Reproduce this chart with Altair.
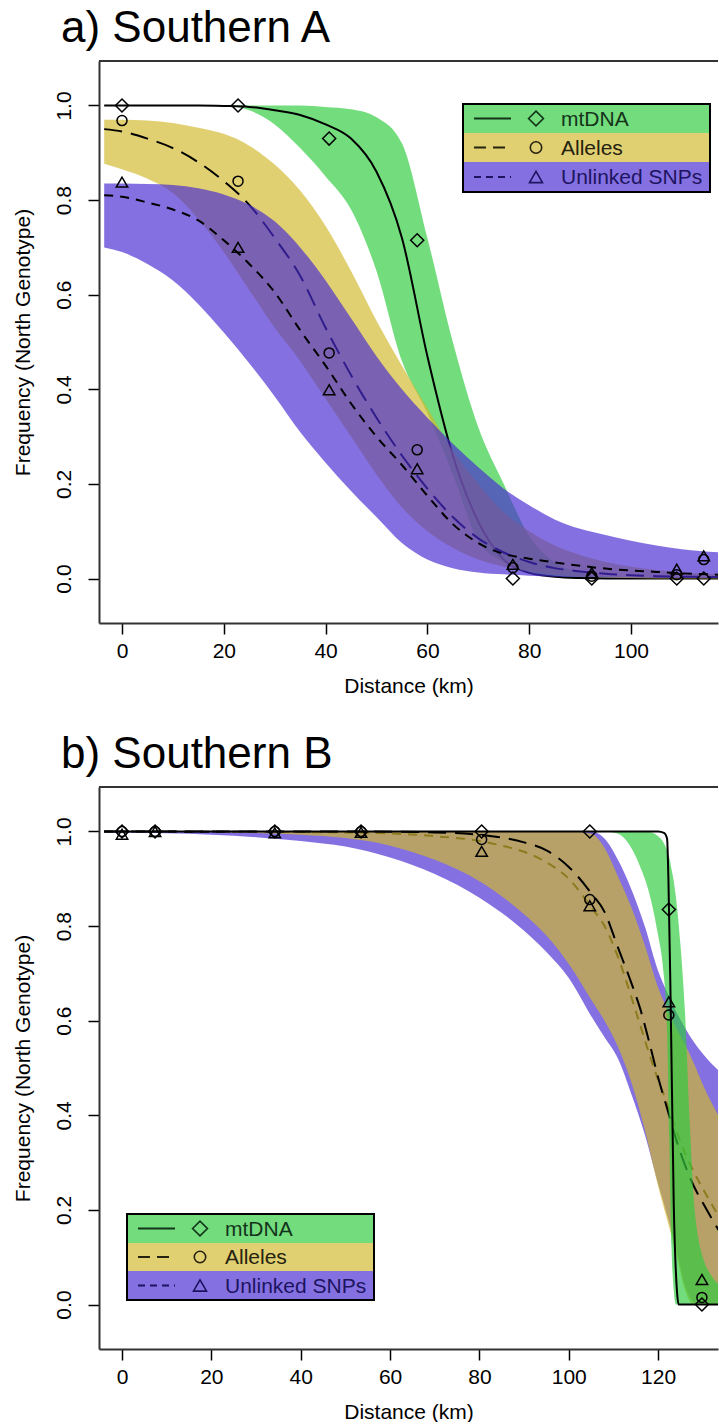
import altair as alt
import pandas as pd

# ---------------- panel a) Southern A ----------------
a_curve_km = [-3.5, 0, 5, 10, 15, 20, 25, 30, 35, 40, 45, 50, 55, 60, 65, 70, 75, 80, 85, 90, 95, 100, 105, 110, 117.5]
a_mt_fit = [1.0, 1.0, 1.0, 1.0, 1.0, 0.999, 0.997, 0.99, 0.98, 0.96, 0.93, 0.86, 0.72, 0.47, 0.26, 0.12, 0.04, 0.012, 0.004, 0.001, 0.0, 0.0, 0.0, 0.0, 0.0]
a_mt_hi = [1.0, 1.0, 1.0, 1.0, 1.0, 1.0, 1.0, 1.0, 1.0, 0.997, 0.992, 0.975, 0.92, 0.72, 0.50, 0.32, 0.20, 0.09, 0.035, 0.012, 0.004, 0.001, 0.0, 0.0, 0.0]
a_mt_lo = [1.0, 1.0, 1.0, 1.0, 1.0, 1.0, 0.99, 0.96, 0.91, 0.85, 0.78, 0.65, 0.46, 0.35, 0.22, 0.08, 0.035, 0.012, 0.004, 0.0, 0.0, 0.0, 0.0, 0.0, 0.0]
a_al_fit = [0.95, 0.945, 0.93, 0.91, 0.88, 0.84, 0.79, 0.72, 0.64, 0.53, 0.43, 0.34, 0.26, 0.19, 0.13, 0.085, 0.055, 0.035, 0.022, 0.015, 0.01, 0.007, 0.005, 0.004, 0.003]
a_al_hi = [0.97, 0.97, 0.968, 0.963, 0.953, 0.94, 0.915, 0.875, 0.82, 0.745, 0.65, 0.545, 0.45, 0.36, 0.27, 0.2, 0.14, 0.1, 0.07, 0.05, 0.035, 0.025, 0.018, 0.013, 0.009]
a_al_lo = [0.877, 0.865, 0.845, 0.815, 0.76, 0.69, 0.61, 0.53, 0.46, 0.38, 0.30, 0.22, 0.15, 0.10, 0.065, 0.04, 0.025, 0.015, 0.008, 0.004, 0.002, 0.001, 0.0, 0.0, 0.0]
a_snp_fit = [0.81, 0.807, 0.795, 0.78, 0.757, 0.715, 0.665, 0.605, 0.525, 0.45, 0.37, 0.30, 0.24, 0.175, 0.115, 0.075, 0.052, 0.042, 0.034, 0.027, 0.021, 0.017, 0.014, 0.011, 0.008]
a_snp_hi = [0.835, 0.835, 0.834, 0.832, 0.825, 0.812, 0.79, 0.755, 0.70, 0.63, 0.55, 0.47, 0.40, 0.34, 0.285, 0.235, 0.19, 0.155, 0.125, 0.105, 0.092, 0.08, 0.07, 0.062, 0.055]
a_snp_lo = [0.70, 0.69, 0.665, 0.63, 0.58, 0.52, 0.455, 0.385, 0.31, 0.245, 0.185, 0.13, 0.075, 0.04, 0.022, 0.013, 0.009, 0.006, 0.004, 0.003, 0.002, 0.002, 0.001, 0.001, 0.001]
a_site_km = [0, 22.8, 40.7, 58, 76.8, 92.3, 109, 114.3]
a_mt_obs = [1.0, 1.0, 0.93, 0.715, 0.0, 0.0, 0.0, 0.0]
a_al_obs = [0.968, 0.84, 0.477, 0.272, 0.023, 0.005, 0.008, 0.04]
a_snp_obs = [0.838, 0.70, 0.399, 0.232, 0.03, 0.012, 0.02, 0.048]

# ---------------- panel b) Southern B ----------------
b_mt_km = [-4, 100, 120, 121.3, 122, 122.3, 122.8, 123.5, 124.2, 124.6, 134]
b_mt_fit = [1.0, 1.0, 1.0, 0.997, 0.985, 0.9, 0.64, 0.21, 0.03, 0.0, 0.0]
b_mtband_km = [-4, 100, 108, 111, 114, 116, 118, 120, 121, 122, 122.5, 123, 123.5, 124, 125, 126, 127, 128, 129, 130, 132, 134]
b_mt_hi = [1.0, 1.0, 1.0, 1.0, 1.0, 1.0, 0.999, 0.99, 0.98, 0.96, 0.945, 0.92, 0.895, 0.86, 0.76, 0.62, 0.40, 0.22, 0.14, 0.10, 0.06, 0.04]
b_mt_lo = [1.0, 1.0, 1.0, 0.995, 0.965, 0.925, 0.87, 0.78, 0.72, 0.58, 0.35, 0.12, 0.03, 0.0, 0.0, 0.0, 0.0, 0.0, 0.0, 0.0, 0.0, 0.0]
b_band_km = [-4, 10, 20, 30, 40, 50, 60, 70, 80, 90, 95, 100, 105, 108, 111, 114, 117, 120, 122, 124, 126, 128, 130, 134]
b_al_hi = [1, 1, 1, 1, 1, 1, 1, 1, 1, 1, 1, 1, 0.995, 0.965, 0.905, 0.84, 0.76, 0.67, 0.625, 0.585, 0.55, 0.51, 0.465, 0.39]
b_al_lo = [1, 1, 0.999, 0.997, 0.993, 0.986, 0.97, 0.94, 0.895, 0.825, 0.78, 0.72, 0.645, 0.60, 0.545, 0.47, 0.37, 0.25, 0.18, 0.11, 0.03, 0.0, 0.0, 0.0]
b_snp_hi = [1, 1, 1, 1, 1, 1, 1, 1, 1, 1, 1, 1, 1.0, 0.985, 0.94, 0.878, 0.80, 0.705, 0.66, 0.62, 0.585, 0.555, 0.53, 0.49]
b_snp_lo = [0.998, 0.996, 0.993, 0.988, 0.98, 0.968, 0.945, 0.91, 0.86, 0.79, 0.745, 0.69, 0.61, 0.565, 0.52, 0.445, 0.36, 0.255, 0.19, 0.12, 0.04, 0.005, 0.0, 0.0]
b_fit_km = [-4, 50, 70, 80, 85, 90, 95, 100, 105, 108, 111, 114, 116, 118, 120, 122, 124, 126, 128, 130, 134]
b_al_fit = [1.0, 1.0, 0.998, 0.993, 0.987, 0.977, 0.96, 0.925, 0.87, 0.83, 0.755, 0.68, 0.625, 0.555, 0.48, 0.415, 0.35, 0.295, 0.25, 0.215, 0.15]
b_snp_fit = [1.0, 0.998, 0.99, 0.98, 0.97, 0.957, 0.935, 0.90, 0.84, 0.80, 0.735, 0.65, 0.59, 0.53, 0.475, 0.425, 0.37, 0.32, 0.28, 0.245, 0.18]
b_site_km = [0, 7.4, 34.2, 53.5, 80.5, 104.7, 122.4, 129.8]
b_mt_obs = [1.0, 1.0, 1.0, 1.0, 1.0, 1.0, 0.835, 0.0]
b_al_obs = [1.0, 1.0, 1.0, 1.0, 0.983, 0.856, 0.612, 0.015]
b_snp_obs = [0.994, 1.0, 0.997, 0.998, 0.958, 0.843, 0.64, 0.053]

series = ["mtDNA", "Alleles", "Unlinked SNPs"]

# ---------------- styling ----------------
FONT = "Liberation Sans"
W, H = 619, 562
BAND = {"mtDNA": "#2ECB3D", "Alleles": "#D1B92D", "Unlinked SNPs": "#472AD1"}
ROW = {"mtDNA": "#73DC7D", "Alleles": "#E0D072", "Unlinked SNPs": "#8470E0"}
INK = {"mtDNA": "#13341a", "Alleles": "#25220f", "Unlinked SNPs": "#1d1460"}
DASH = {"mtDNA": None, "Alleles": [18, 9], "Unlinked SNPs": [9, 7]}
SHAPE = {"mtDNA": "diamond", "Alleles": "circle", "Unlinked SNPs": "triangle-up"}
SIZE = {"mtDNA": 170, "Alleles": 100, "Unlinked SNPs": 130}
OPAC = 0.67


def make_panel(title, xdom, xticks, bands, fits, obs, legend_box):
    xsc = alt.Scale(domain=xdom, nice=False, zero=False)
    ysc = alt.Scale(domain=[-0.094, 1.094], nice=False, zero=False)
    xax = alt.Axis(values=xticks, title="Distance (km)", format="d", tickSize=11,
                   labelPadding=6, titlePadding=14, labelFlush=False)
    yax = alt.Axis(values=[0, 0.2, 0.4, 0.6, 0.8, 1.0], format=".1f",
                   title="Frequency (North Genotype)", labelAngle=-90,
                   labelAlign="center", labelBaseline="bottom", tickSize=11,
                   labelPadding=14, titlePadding=20, labelFlush=False)

    def X(f):
        return alt.X(f"{f}:Q", scale=xsc, axis=xax)

    def Y(f):
        return alt.Y(f"{f}:Q", scale=ysc, axis=yax)

    layers = []
    for s in bands["order"]:
        bkm, lo, hi = bands[s]
        layers.append(
            alt.Chart(pd.DataFrame({"km": bkm, "lo": lo, "hi": hi}))
            .mark_area(color=BAND[s], opacity=OPAC, interpolate="monotone", clip=True)
            .encode(x=X("km"), y=Y("hi"), y2=alt.Y2("lo:Q"))
        )
        fkm, fit = fits[s]
        kw = dict(color="black", strokeWidth=2, interpolate="monotone", clip=True)
        if DASH[s]:
            kw["strokeDash"] = DASH[s]
        layers.append(
            alt.Chart(pd.DataFrame({"km": fkm, "p": fit}))
            .mark_line(**kw)
            .encode(x=X("km"), y=Y("p"))
        )
    skm, vals = obs
    for s in series:
        layers.append(
            alt.Chart(pd.DataFrame({"km": skm, "p": vals[s]}))
            .mark_point(shape=SHAPE[s], filled=False, color="black", strokeWidth=1.5,
                        size=SIZE[s], opacity=1, clip=True)
            .encode(x=X("km"), y=Y("p"))
        )
    one = pd.DataFrame({"k": [0]})
    layers.append(
        alt.Chart(one).mark_rule(color="#333333", strokeWidth=2)
        .encode(x=alt.value(0), x2=alt.value(W), y=alt.value(0))
    )
    x0, x1, rows = legend_box
    for i, s in enumerate(series):
        ya, yb = rows[i], rows[i + 1]
        yc = (ya + yb) / 2
        lab = pd.DataFrame({"label": [s]})
        layers.append(
            alt.Chart(lab).mark_rect(color=ROW[s])
            .encode(x=alt.value(x0), x2=alt.value(x1), y=alt.value(ya), y2=alt.value(yb))
        )
        kw = dict(color=INK[s], strokeWidth=2)
        if DASH[s]:
            kw["strokeDash"] = [12, 7] if s == "Alleles" else [7, 5]
        layers.append(
            alt.Chart(lab).mark_rule(**kw)
            .encode(x=alt.value(x0 + 11), x2=alt.value(x0 + 48), y=alt.value(yc))
        )
        layers.append(
            alt.Chart(lab).mark_point(shape=SHAPE[s], filled=False, color=INK[s],
                                      strokeWidth=1.6, size=SIZE[s] * 1.3, opacity=1)
            .encode(x=alt.value(x0 + 73), y=alt.value(yc))
        )
        layers.append(
            alt.Chart(lab).mark_text(align="left", baseline="middle", font=FONT,
                                     fontSize=21, color=INK[s])
            .encode(x=alt.value(x0 + 98), y=alt.value(yc + 1), text="label:N")
        )
    layers.append(
        alt.Chart(one).mark_rect(fillOpacity=0, stroke="black", strokeWidth=2)
        .encode(x=alt.value(x0), x2=alt.value(x1), y=alt.value(rows[0]), y2=alt.value(rows[-1]))
    )
    return alt.layer(*layers).properties(
        width=W, height=H,
        title=alt.TitleParams(title, anchor="start", frame="group", dx=-38, fontSize=44,
                              font=FONT, fontWeight="normal", color="black", offset=9),
    )


panel_a = make_panel(
    "a) Southern A", [-4.52, 117.1], [0, 20, 40, 60, 80, 100],
    {"order": ["mtDNA", "Alleles", "Unlinked SNPs"],
     "mtDNA": (a_curve_km, a_mt_lo, a_mt_hi),
     "Alleles": (a_curve_km, a_al_lo, a_al_hi),
     "Unlinked SNPs": (a_curve_km, a_snp_lo, a_snp_hi)},
    {"mtDNA": (a_curve_km, a_mt_fit), "Alleles": (a_curve_km, a_al_fit),
     "Unlinked SNPs": (a_curve_km, a_snp_fit)},
    (a_site_km, {"mtDNA": a_mt_obs, "Alleles": a_al_obs, "Unlinked SNPs": a_snp_obs}),
    (364, 611, [43, 72, 101, 131]),
)

panel_b = make_panel(
    "b) Southern B", [-5.15, 133.4], [0, 20, 40, 60, 80, 100, 120],
    {"order": ["Unlinked SNPs", "Alleles", "mtDNA"],
     "mtDNA": (b_mtband_km, b_mt_lo, b_mt_hi),
     "Alleles": (b_band_km, b_al_lo, b_al_hi),
     "Unlinked SNPs": (b_band_km, b_snp_lo, b_snp_hi)},
    {"mtDNA": (b_mt_km, b_mt_fit), "Alleles": (b_fit_km, b_al_fit),
     "Unlinked SNPs": (b_fit_km, b_snp_fit)},
    (b_site_km, {"mtDNA": b_mt_obs, "Alleles": b_al_obs, "Unlinked SNPs": b_snp_obs}),
    (28, 275, [427, 456, 484, 513]),
)

chart = (
    alt.vconcat(panel_a, panel_b, spacing=37)
    .properties(padding={"left": 12, "top": 7, "right": 0, "bottom": 0}, background="white")
    .configure_view(stroke=None)
    .configure_axis(
        labelFont=FONT, titleFont=FONT, labelFontSize=21, titleFontSize=21,
        titleFontWeight="normal", labelColor="black", titleColor="black",
        tickColor="black", tickWidth=1.5, domainColor="#333333", domainWidth=2, grid=False,
    )
)

chart.save("out.html", embed_options={"renderer": "svg", "actions": False})
